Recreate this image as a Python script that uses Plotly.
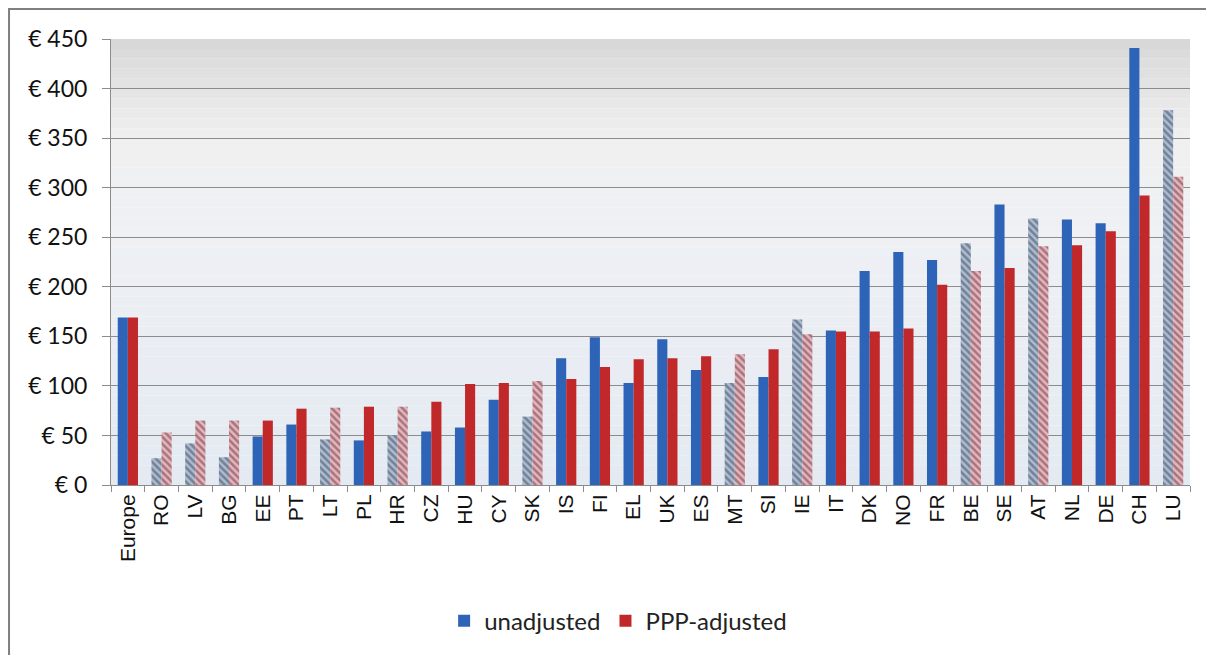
import plotly.graph_objects as go

# --------------------------
# DATA
# --------------------------
countries = ["Europe", "RO", "LV", "BG", "EE", "PT", "LT", "PL", "HR", "CZ", "HU",
             "CY", "SK", "IS", "FI", "EL", "UK", "ES", "MT", "SI", "IE", "IT",
             "DK", "NO", "FR", "BE", "SE", "AT", "NL", "DE", "CH", "LU"]
unadjusted = [169, 27, 42, 28, 49, 61, 46, 45, 50, 54, 58,
              86, 69, 128, 149, 103, 147, 116, 103, 109, 167, 156,
              216, 235, 227, 244, 283, 269, 268, 264, 441, 378]
ppp_adjusted = [169, 53, 65, 65, 65, 77, 78, 79, 79, 84, 102,
                103, 105, 107, 119, 127, 128, 130, 132, 137, 152, 155,
                155, 158, 202, 216, 219, 241, 242, 256, 292, 311]
# countries drawn with hatched bars
hatched = ["RO", "LV", "BG", "LT", "HR", "SK", "MT", "IE", "BE", "AT", "LU"]
y_ticks = [0, 50, 100, 150, 200, 250, 300, 350, 400, 450]

# --------------------------
# STYLES
# --------------------------
BLUE, BLUE_FG, BLUE_BG = "#2d64b8", "#3b5682", "#a9bcd8"
RED, RED_FG, RED_BG = "#c0282a", "#c8304a", "#f2b0bb"


def bar_style(solid, fg, bg):
    is_h = [c in hatched for c in countries]
    return dict(
        color=[bg if h else solid for h in is_h],
        pattern=dict(
            shape=["\\" if h else "" for h in is_h],
            fgcolor=[fg if h else solid for h in is_h],
            size=5, solidity=0.5, fillmode="overlay",
        ),
        line=dict(width=0),
    )


fig = go.Figure()
fig.add_trace(go.Bar(x=countries, y=unadjusted, name="unadjusted",
                     marker=bar_style(BLUE, BLUE_FG, BLUE_BG)))
fig.add_trace(go.Bar(x=countries, y=ppp_adjusted, name="PPP-adjusted",
                     marker=bar_style(RED, RED_FG, RED_BG)))

# gradient plot-area background (grey at top -> near white -> light blue at bottom)
stops = [(0, (228, 234, 242)), (250, (238, 240, 244)), (350, (240, 240, 240)),
         (400, (228, 228, 228)), (450, (215, 215, 215))]


def grad_color(v):
    for (a, ca), (b, cb) in zip(stops[:-1], stops[1:]):
        if a <= v <= b:
            t = (v - a) / (b - a)
            return "rgb(%d,%d,%d)" % tuple(round(ca[i] + (cb[i] - ca[i]) * t) for i in range(3))
    return "rgb(215,215,215)"


n_bands = 45
for i in range(n_bands):
    y0 = 450 * i / n_bands
    y1 = 450 * (i + 1) / n_bands
    fig.add_shape(type="rect", xref="paper", yref="y", x0=0, x1=1, y0=y0, y1=y1,
                  fillcolor=grad_color((y0 + y1) / 2), line=dict(width=0), layer="below")

# outer chart frame
fig.add_shape(type="rect", xref="paper", yref="paper",
              x0=-0.0945, x1=1.05, y0=-0.39, y1=1.067,
              line=dict(color="#7f7f7f", width=2), fillcolor="rgba(0,0,0,0)")

# the page has an 8px body margin, so the figure is 8px smaller than the window
fig.update_layout(
    width=1206, height=647,
    margin=dict(l=103, r=24, t=31, b=170),
    paper_bgcolor="white",
    plot_bgcolor="rgba(0,0,0,0)",
    barmode="group",
    bargap=0.4,
    bargroupgap=0,
    showlegend=True,
    legend=dict(orientation="h", x=0.47, xanchor="center", y=-0.305, yanchor="middle",
                font=dict(family="Lato", size=24, color="#222"),
                itemwidth=30, traceorder="normal"),
    font=dict(family="Lato", color="#222"),
)

fig.update_xaxes(
    type="category",
    tickangle=-90,
    tickfont=dict(family="Liberation Sans", size=21, color="#111"),
    showline=True, linecolor="#8c8c8c", linewidth=1,
    ticks="outside", tickson="boundaries", ticklen=6, tickcolor="#8c8c8c",
    showgrid=False,
)
fig.update_yaxes(
    range=[0, 450],
    tickvals=y_ticks,
    ticktext=["€ %d" % v for v in y_ticks],
    tickfont=dict(family="Lato", size=23, color="#111"),
    ticklabelstandoff=10,
    showline=True, linecolor="#8c8c8c", linewidth=1,
    ticks="outside", ticklen=8, tickcolor="#8c8c8c",
    showgrid=True, gridcolor="#8c8c8c", gridwidth=1,
    zeroline=False,
)

fig.write_html("out.html")
